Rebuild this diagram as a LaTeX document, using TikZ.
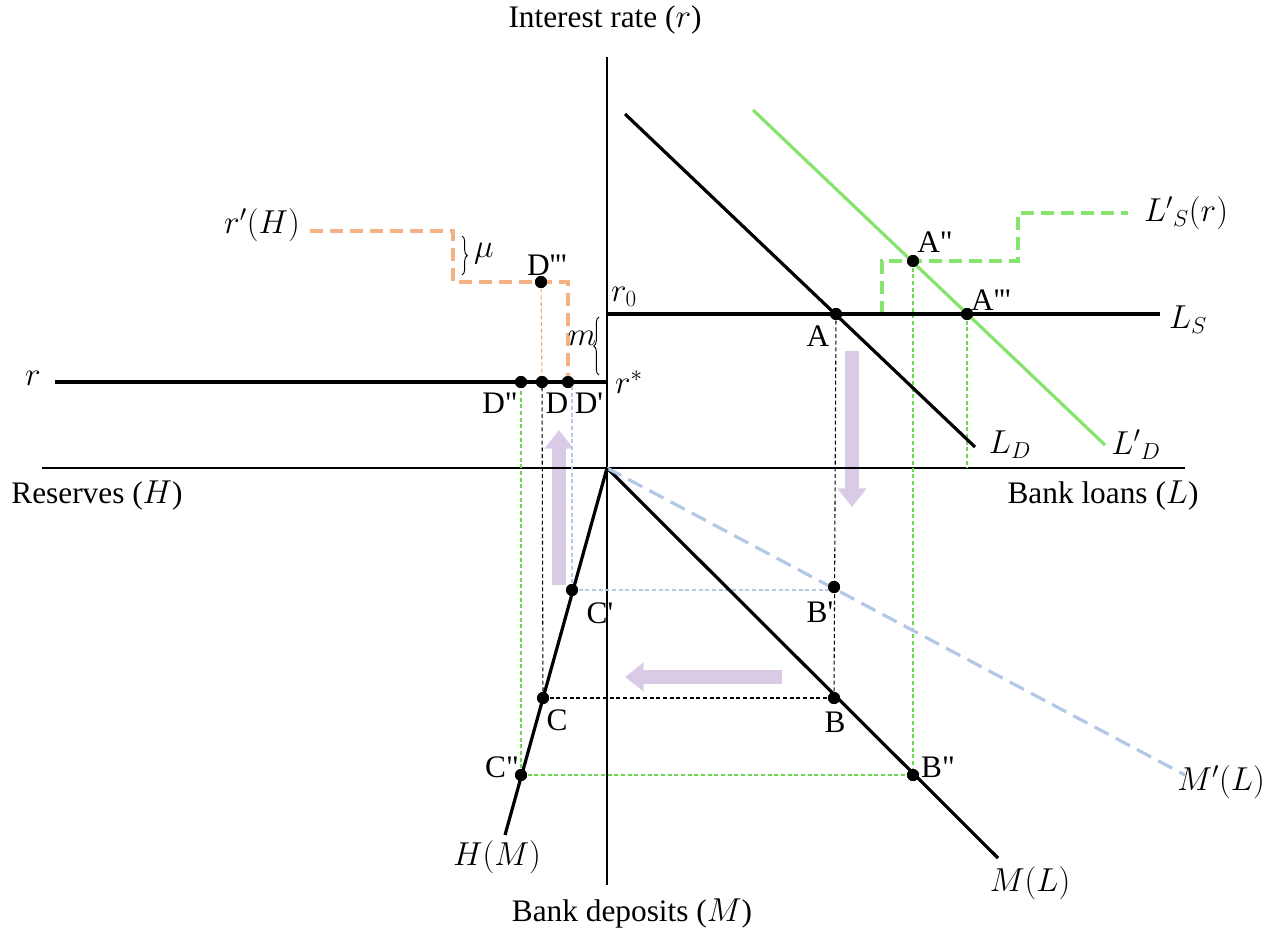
\documentclass[tikz,border=0pt]{standalone}
\usepackage{fontspec}
\newfontfamily\tnr{Liberation Serif}
\usetikzlibrary{arrows.meta,decorations.pathreplacing}
\definecolor{ora}{HTML}{F4B183}
\definecolor{grn}{HTML}{86E46E}
\definecolor{grnthin}{HTML}{6AD84E}
\definecolor{blu}{HTML}{B4C7E7}
\definecolor{orathin}{HTML}{F2A470}
\definecolor{pur}{HTML}{D9CBE5}
\begin{document}
\begin{tikzpicture}[x=0.75pt,y=-0.75pt,
  font=\tnr\fontsize{23.5}{27}\selectfont,
  axis/.style={line width=0.9pt},
  curve/.style={line width=2.4pt},
  guide/.style={line width=0.8pt,dash pattern=on 3pt off 2pt},
  stepline/.style={line width=3pt,dash pattern=on 10pt off 5pt},
  dot/.style={circle,fill=black,inner sep=0pt,minimum size=9pt},
  lbl/.style={inner sep=1pt},
  bigarrow/.style={pur,line width=10pt,-{Triangle[width=21pt,length=14pt]}},
  brc/.style={decorate,decoration={brace,amplitude=4pt},line width=0.7pt},
]
\useasboundingbox (0,0) rectangle (1277,935);

% coordinates
\coordinate (O) at (607,468);
\coordinate (ytop) at (607,57);
\coordinate (ybot) at (607,885);
\coordinate (xl) at (42,468);
\coordinate (xr) at (1185,468);

% axis labels
\node[lbl] (ylab) at (605,20) {Interest rate ($r$)};
\node[lbl] (xlabR) at (1103,495) {Bank loans ($L$)};
\node[lbl] (xlabL) at (97,495) {Reserves ($H$)};
\node[lbl] (ylabB) at (632,913) {Bank deposits ($M$)};

% purple arrows
\draw[bigarrow] (852,351) -- (852,507);
\draw[bigarrow] (559,585) -- (559,430);
\draw[bigarrow] (782,677) -- (625,677);

% axes
\draw[axis] (ytop) -- (ybot);
\draw[axis] (xl) -- (xr);

% points
\node[dot] (A) at (836,314) {};
\node[dot] (A3) at (967,314) {};
\node[dot] (A2) at (913,261) {};
\node[dot] (B1) at (834,587) {};
\node[dot] (B) at (834,698) {};
\node[dot] (B2) at (913,775) {};
\node[dot] (C1) at (572,590) {};
\node[dot] (C) at (543,698) {};
\node[dot] (C2) at (521,775) {};
\node[dot] (D) at (542,382) {};
\node[dot] (D1) at (568,382) {};
\node[dot] (D2) at (521,382) {};
\node[dot] (D3) at (541,282) {};

% guide lines
\draw[guide] (A.center) -- (B.center);
\draw[guide] (C.center) -- (B.center);
\draw[guide] (C.center) -- (D.center);
\draw[guide,blu] (C1.center) -- (C1 -| B1);
\draw[guide,blu] (C1.center) -- (C1 |- D1);
\draw[guide,grnthin] (A3.center) -- (A3 |- O);
\draw[guide,grnthin] (A2.center) -- (B2.center);
\draw[guide,grnthin] (C2.center) -- (B2.center);
\draw[guide,grnthin] (C2.center) -- (D2.center);
\draw[guide,orathin] (D3.center) -- (D.center);

% step curves
\draw[stepline,ora] (310,231) -| (453,282) -| (D1.center);
\draw[stepline,grn] (882,314) |- (1018,261) |- (1128,213);

% main curves
\coordinate (LDa) at (625,114);
\coordinate (LDb) at (975,447);
\coordinate (LDpa) at (753,110);
\coordinate (LDpb) at (1105,445);
\coordinate (LSb) at (1160,314);
\coordinate (rl) at (55,382);
\coordinate (ML) at (998,858);
\coordinate (MpL) at (1185,775);
\coordinate (HM) at (505,835);
\draw[curve,grn] (LDpa) -- (LDpb);
\draw[curve] (LDa) -- (LDb);
\draw[curve] (607,314) -- (LSb);
\draw[curve] (rl) -- (O |- rl);
\draw[curve] (O) -- (ML);
\draw[curve,blu,dash pattern=on 12pt off 6pt] (O) -- (MpL);
\draw[curve] (O) -- (HM);

% redraw dots on top
\foreach \p in {A,A3,A2,B1,B,B2,C1,C,C2,D,D1,D2,D3}
  \fill (\p) circle (4.5pt);

% braces
\draw[brc] (462,236) -- (462,275);
\draw[brc] (599,375) -- (599,317);

% labels
\node[lbl] (lr) at (33,378) {$r$};
\node[lbl] (lrH) at (262,225) {$r'(H)$};
\node[lbl] (lmu) at (484,254) {$\mu$};
\node[lbl] (lD3) at (547,265) {D'''};
\node[lbl] (lm) at (582,338) {$m$};
\node[lbl] (lr0) at (624,297) {$r_0$};
\node[lbl] (lrs) at (629,382) {$r^*$};
\node[lbl] (lD2) at (500,403) {D"};
\node[lbl] (lD) at (557,403) {D};
\node[lbl] (lD1) at (589,403) {D'};
\node[lbl] (lA) at (818,336) {A};
\node[lbl] (lA2) at (935,242) {A"};
\node[lbl] (lA3) at (991,300) {A'''};
\node[lbl] (lLS) at (1188,320) {$L_S$};
\node[lbl] (lLSp) at (1186,213) {$L'{}_S(r)$};
\node[lbl] (lLD) at (1010,445) {$L_D$};
\node[lbl] (lLDp) at (1136,445) {$L'{}_D$};
\node[lbl] (lB1) at (820,612) {B'};
\node[lbl] (lB) at (835,722) {B};
\node[lbl] (lB2) at (938,767) {B"};
\node[lbl] (lC1) at (600,613) {C'};
\node[lbl] (lC) at (557,720) {C};
\node[lbl] (lC2) at (502,767) {C"};
\node[lbl] (lHM) at (497,857) {$H(M)$};
\node[lbl] (lML) at (1030,883) {$M(L)$};
\node[lbl] (lMpL) at (1221,782) {$M'(L)$};
\end{tikzpicture}
\end{document}
